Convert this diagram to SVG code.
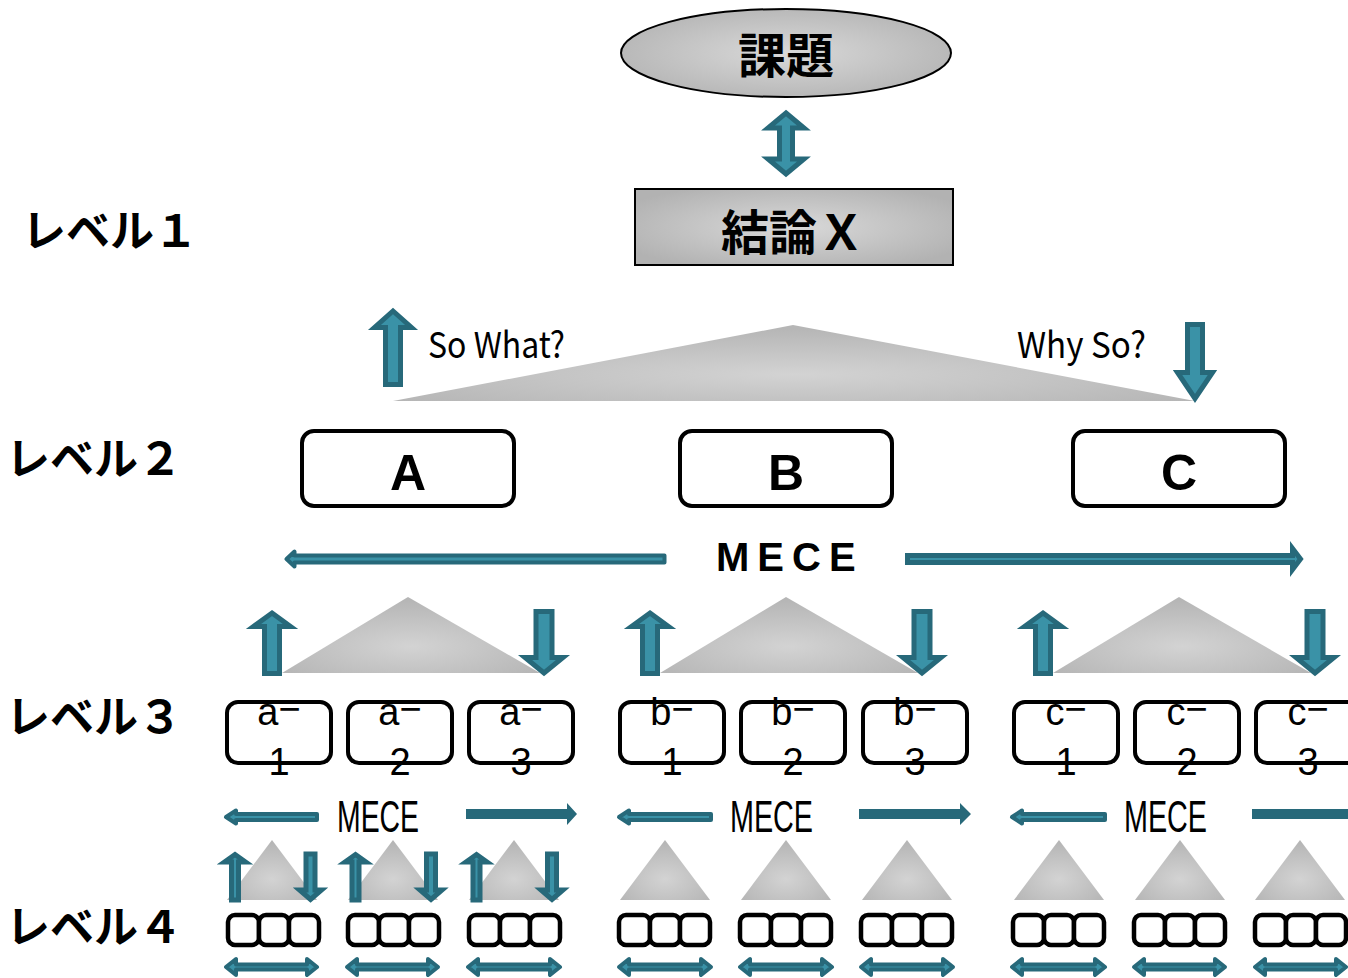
<svg xmlns="http://www.w3.org/2000/svg" xmlns:xlink="http://www.w3.org/1999/xlink" width="1348" height="978" viewBox="0 0 1348 978">
  <defs>
    <radialGradient id="gGray" cx="0.5" cy="0.5" r="0.6">
      <stop offset="0" stop-color="#d9d9d9"/>
      <stop offset="1" stop-color="#b2b2b2"/>
    </radialGradient>
    <radialGradient id="gTri" cx="0.5" cy="0.65" r="0.6">
      <stop offset="0" stop-color="#d3d3d3"/>
      <stop offset="1" stop-color="#b6b6b6"/>
    </radialGradient>
    <!-- three joined cells used on level 4 -->
    <g id="cells">
      <rect x="2" y="2" width="31" height="30" rx="7"/>
      <rect x="33" y="2" width="30" height="30" rx="7"/>
      <rect x="63" y="2" width="30" height="30" rx="7"/>
    </g>
  </defs>
  <style>
    .jp { font-family: "Noto Sans CJK JP", "Noto Sans", sans-serif; font-weight: 700; fill: #000; }
    .lvl { font-family: "Noto Sans CJK JP", "Noto Sans", sans-serif; font-weight: 700; font-size: 44px; fill: #000; }
    .gothic { font-family: "Noto Sans CJK JP", "Noto Sans", sans-serif; font-weight: 400; fill: #000; }
    .narrow { font-family: "Liberation Sans", Arial, sans-serif; font-weight: 400; fill: #000; }
    .big { font-family: "Liberation Sans", Arial, sans-serif; font-weight: 700; font-size: 50px; text-anchor: middle; fill: #000; }
    .box2 { fill: #fff; stroke: #000; stroke-width: 4; }
    .box3 { fill: #fff; stroke: #000; stroke-width: 4; }
    .cell { fill: #fff; stroke: #000; stroke-width: 4.5; }
    .tri { fill: url(#gTri); }
    .arr { fill: #3a92a7; stroke: #27697a; stroke-width: 5; stroke-linejoin: miter; }
    .arrR { fill: #3a92a7; stroke: #27697a; stroke-width: 4; stroke-linejoin: round; }
    .arrS { fill: #27697a; }
    .t3 { font-family: "Liberation Sans", Arial, sans-serif; font-size: 38px; text-anchor: middle; fill: #000; }
  </style>

  <rect width="1348" height="978" fill="#fff"/>

  <!-- level captions -->
  <g id="level-labels">
    <text class="lvl" x="22" y="247">レベル１</text>
    <text class="lvl" x="6" y="475">レベル２</text>
    <text class="lvl" x="6" y="733">レベル３</text>
    <text class="lvl" x="6" y="943">レベル４</text>
  </g>

  <!-- top: issue and conclusion -->
  <g id="issue">
    <ellipse cx="786" cy="53" rx="165" ry="44" fill="url(#gGray)" stroke="#000" stroke-width="2"/>
    <text class="jp" x="786" y="73" font-size="48" text-anchor="middle">課題</text>
  </g>
  <g id="conclusion">
    <rect x="635" y="189" width="318" height="76" fill="url(#gGray)" stroke="#000" stroke-width="2"/>
    <text class="jp" x="721" y="250" font-size="48">結論Ｘ</text>
  </g>

  <!-- pyramids -->
  <g id="pyramid-l2">
    <polygon class="tri" points="793,325 1195,401 393,401"/>
  </g>
  <g id="pyramids-l3">
    <polygon class="tri" points="408,597 540,673 282,673"/>
    <polygon class="tri" points="786,597 918,673 660,673"/>
    <polygon class="tri" points="1179,597 1311,673 1053,673"/>
  </g>
  <g id="pyramids-l4">
    <polygon class="tri" points="272,840 317,900 227,900"/>
    <polygon class="tri" points="393,840 438,900 348,900"/>
    <polygon class="tri" points="514,840 559,900 469,900"/>
    <polygon class="tri" points="665,840 710,900 620,900"/>
    <polygon class="tri" points="786,840 831,900 741,900"/>
    <polygon class="tri" points="907,840 952,900 862,900"/>
    <polygon class="tri" points="1059,840 1104,900 1014,900"/>
    <polygon class="tri" points="1180,840 1225,900 1135,900"/>
    <polygon class="tri" points="1300,840 1345,900 1255,900"/>
  </g>

  <!-- So What? / Why So? captions -->
  <g id="captions">
    <text class="gothic" x="428" y="358" font-size="36" textLength="137" lengthAdjust="spacingAndGlyphs">So What?</text>
    <text class="gothic" x="1017" y="358" font-size="36" textLength="129" lengthAdjust="spacingAndGlyphs">Why So?</text>
  </g>

  <!-- level 2 boxes -->
  <g id="node-A">
    <rect class="box2" x="302" y="431" width="212" height="75" rx="12"/>
    <text class="big" x="408" y="490">A</text>
  </g>
  <g id="node-B">
    <rect class="box2" x="680" y="431" width="212" height="75" rx="12"/>
    <text class="big" x="786" y="490">B</text>
  </g>
  <g id="node-C">
    <rect class="box2" x="1073" y="431" width="212" height="75" rx="12"/>
    <text class="big" x="1179" y="490">C</text>
  </g>

  <!-- MECE caption, level 2 -->
  <text id="mece-l2" x="716" y="571" font-family="Liberation Sans, Arial, sans-serif" font-weight="700" font-size="40" letter-spacing="8">MECE</text>

  <!-- level 3 boxes -->
  <g id="node-a1"><rect class="box3" x="227" y="702" width="104" height="61" rx="11"/><text class="t3" x="279" y="725">a<tspan dy="-3">−</tspan></text><text class="t3" x="279" y="775">1</text></g>
  <g id="node-a2"><rect class="box3" x="348" y="702" width="104" height="61" rx="11"/><text class="t3" x="400" y="725">a<tspan dy="-3">−</tspan></text><text class="t3" x="400" y="775">2</text></g>
  <g id="node-a3"><rect class="box3" x="469" y="702" width="104" height="61" rx="11"/><text class="t3" x="521" y="725">a<tspan dy="-3">−</tspan></text><text class="t3" x="521" y="775">3</text></g>
  <g id="node-b1"><rect class="box3" x="620" y="702" width="104" height="61" rx="11"/><text class="t3" x="672" y="725">b<tspan dy="-3">−</tspan></text><text class="t3" x="672" y="775">1</text></g>
  <g id="node-b2"><rect class="box3" x="741" y="702" width="104" height="61" rx="11"/><text class="t3" x="793" y="725">b<tspan dy="-3">−</tspan></text><text class="t3" x="793" y="775">2</text></g>
  <g id="node-b3"><rect class="box3" x="863" y="702" width="104" height="61" rx="11"/><text class="t3" x="915" y="725">b<tspan dy="-3">−</tspan></text><text class="t3" x="915" y="775">3</text></g>
  <g id="node-c1"><rect class="box3" x="1014" y="702" width="104" height="61" rx="11"/><text class="t3" x="1066" y="725">c<tspan dy="-3">−</tspan></text><text class="t3" x="1066" y="775">1</text></g>
  <g id="node-c2"><rect class="box3" x="1135" y="702" width="104" height="61" rx="11"/><text class="t3" x="1187" y="725">c<tspan dy="-3">−</tspan></text><text class="t3" x="1187" y="775">2</text></g>
  <g id="node-c3"><rect class="box3" x="1256" y="702" width="104" height="61" rx="11"/><text class="t3" x="1308" y="725">c<tspan dy="-3">−</tspan></text><text class="t3" x="1308" y="775">3</text></g>

  <!-- MECE captions, level 3 -->
  <g id="mece-l3">
    <text class="narrow" x="337" y="832" font-size="44" textLength="82" lengthAdjust="spacingAndGlyphs">MECE</text>
    <text class="narrow" x="730" y="832" font-size="44" textLength="83" lengthAdjust="spacingAndGlyphs">MECE</text>
    <text class="narrow" x="1124" y="832" font-size="44" textLength="83" lengthAdjust="spacingAndGlyphs">MECE</text>
  </g>

  <!-- level 4 cell rows -->
  <g id="cells-l4" class="cell">
    <use xlink:href="#cells" x="226" y="913"/>
    <use xlink:href="#cells" x="346" y="913"/>
    <use xlink:href="#cells" x="467" y="913"/>
    <use xlink:href="#cells" x="617" y="913"/>
    <use xlink:href="#cells" x="738" y="913"/>
    <use xlink:href="#cells" x="859" y="913"/>
    <use xlink:href="#cells" x="1011" y="913"/>
    <use xlink:href="#cells" x="1132" y="913"/>
    <use xlink:href="#cells" x="1253" y="913"/>
  </g>

  <!-- connectors: block arrows -->
  <g id="connectors">
    <!-- issue <-> conclusion -->
    <polygon class="arr" stroke-width="4" points="786,113 804,128 792.5,128 792.5,159 804,159 786,174 768,159 779.5,159 779.5,128 768,128"/>
    <!-- So What? up / Why So? down -->
    <polygon class="arr" points="393,311 411.5,327.5 400.5,327.5 400.5,384.5 385.5,384.5 385.5,327.5 374.5,327.5"/>
    <polygon class="arr" points="1187.5,324.5 1202.5,324.5 1202.5,372.5 1212.5,372.5 1195,398.5 1177.5,372.5 1187.5,372.5"/>

    <!-- level 3 up/down arrows -->
    <polygon class="arr" points="272,613 290.5,626.5 279.5,626.5 279.5,673.5 264.5,673.5 264.5,626.5 253.5,626.5"/>
    <polygon class="arr" points="536,611.5 552,611.5 552,657.5 563,657.5 544,673 525,657.5 536,657.5"/>
    <polygon class="arr" points="650,613 668.5,626.5 657.5,626.5 657.5,673.5 642.5,673.5 642.5,626.5 631.5,626.5"/>
    <polygon class="arr" points="914,611.5 930,611.5 930,657.5 941,657.5 922,673 903,657.5 914,657.5"/>
    <polygon class="arr" points="1043,613 1061.5,626.5 1050.5,626.5 1050.5,673.5 1035.5,673.5 1035.5,626.5 1024.5,626.5"/>
    <polygon class="arr" points="1307,611.5 1323,611.5 1323,657.5 1334,657.5 1315,673 1296,657.5 1307,657.5"/>

    <!-- level 4 up/down arrows (group a) -->
    <polygon class="arr" points="235,854.5 245.5,862 238.5,862 238.5,900 231.5,900 231.5,862 224.5,862"/>
    <polygon class="arr" points="306,854 315,854 315,890 321.5,890 310.5,899.5 299.5,890 306,890"/>
    <polygon class="arr" points="355.5,854.5 366,862 359,862 359,900 352,900 352,862 345,862"/>
    <polygon class="arr" points="426.5,854 435.5,854 435.5,890 442,890 431,899.5 420,890 426.5,890"/>
    <polygon class="arr" points="476.5,854.5 487,862 480,862 480,900 473,900 473,862 466,862"/>
    <polygon class="arr" points="547.5,854 556.5,854 556.5,890 563,890 552,899.5 541,890 547.5,890"/>

    <!-- MECE arrows, level 2 -->
    <polygon class="arrR" stroke-width="5" points="286.5,559 294.5,551.5 294.5,555.5 664.5,555.5 664.5,562.5 294.5,562.5 294.5,566.5"/>
    <polygon class="arr" points="907.5,555.5 1292.5,555.5 1292.5,548.5 1300.5,559 1292.5,569.5 1292.5,562.5 907.5,562.5"/>

    <!-- MECE arrows, level 3 -->
    <polygon class="arrR" points="226,817 236,810.5 236,814 317,814 317,820 236,820 236,823.5"/>
    <polygon class="arrR" points="619,817 629,810.5 629,814 711,814 711,820 629,820 629,823.5"/>
    <polygon class="arrR" points="1012,817 1022,810.5 1022,814 1105,814 1105,820 1022,820 1022,823.5"/>
    <polygon class="arrS" points="466,809 567,809 567,803 577,814 567,825 567,819 466,819"/>
    <polygon class="arrS" points="859,809 960,809 960,803 971,814 960,825 960,819 859,819"/>
    <polygon class="arrS" points="1252,809 1353,809 1353,803 1364,814 1353,825 1353,819 1252,819"/>

    <!-- level 4 double arrows -->
    <g class="arrR" stroke-width="3.5">
      <polygon points="226,967 236,959 236,964.5 307,964.5 307,959 317,967 307,975 307,969.5 236,969.5 236,975"/>
      <polygon points="347,967 357,959 357,964.5 428,964.5 428,959 438,967 428,975 428,969.5 357,969.5 357,975"/>
      <polygon points="468,967 478,959 478,964.5 550,964.5 550,959 560,967 550,975 550,969.5 478,969.5 478,975"/>
      <polygon points="619,967 629,959 629,964.5 701,964.5 701,959 711,967 701,975 701,969.5 629,969.5 629,975"/>
      <polygon points="740,967 750,959 750,964.5 822,964.5 822,959 832,967 822,975 822,969.5 750,969.5 750,975"/>
      <polygon points="861,967 871,959 871,964.5 943,964.5 943,959 953,967 943,975 943,969.5 871,969.5 871,975"/>
      <polygon points="1012,967 1022,959 1022,964.5 1095,964.5 1095,959 1105,967 1095,975 1095,969.5 1022,969.5 1022,975"/>
      <polygon points="1134,967 1144,959 1144,964.5 1215,964.5 1215,959 1225,967 1215,975 1215,969.5 1144,969.5 1144,975"/>
      <polygon points="1255,967 1265,959 1265,964.5 1336,964.5 1336,959 1346,967 1336,975 1336,969.5 1265,969.5 1265,975"/>
    </g>
  </g>
</svg>
